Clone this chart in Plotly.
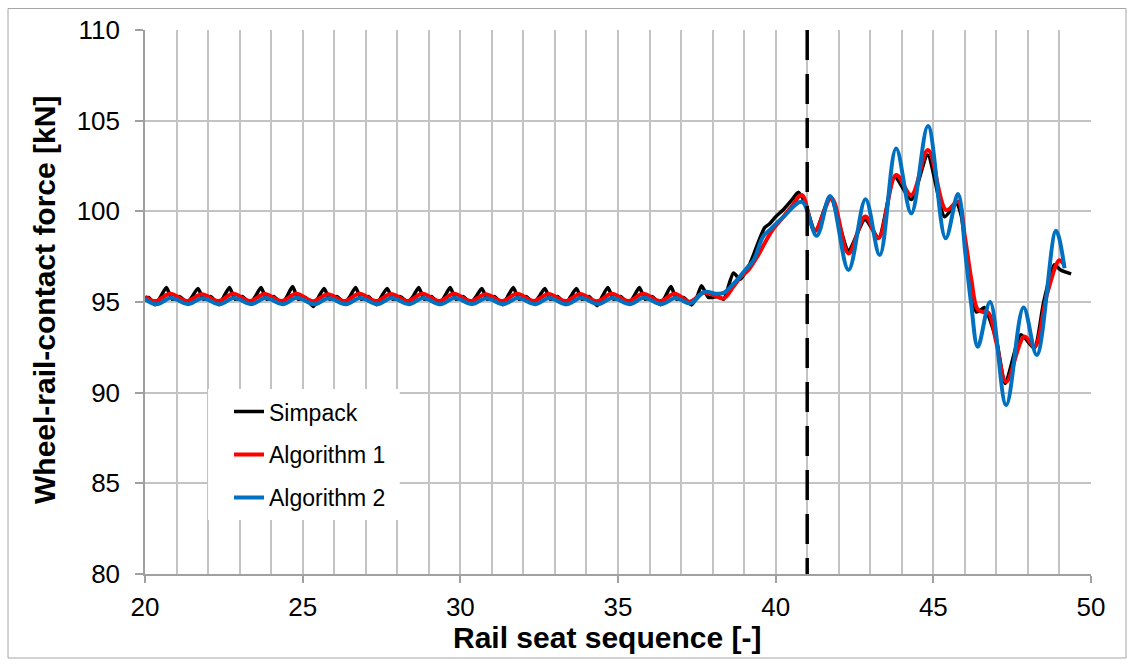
import plotly.graph_objects as go

# Wheel-rail contact force per rail seat: reference simulation and two estimators
SIMPACK = [
    (20.00, 95.20), (20.12, 95.25), (20.32, 94.85), (20.50, 95.30), (20.68, 95.80), (20.86, 95.15),
    (21.08, 95.30), (21.34, 95.00), (21.50, 95.30), (21.68, 95.75), (21.86, 95.15),
    (22.08, 95.30), (22.34, 94.85), (22.50, 95.30), (22.68, 95.80), (22.86, 95.15),
    (23.08, 95.30), (23.34, 94.95), (23.50, 95.30), (23.68, 95.80), (23.86, 95.15),
    (24.08, 95.30), (24.34, 94.90), (24.50, 95.30), (24.68, 95.85), (24.86, 95.15),
    (25.08, 95.25), (25.34, 94.75), (25.50, 95.25), (25.68, 95.75), (25.86, 95.15),
    (26.08, 95.30), (26.34, 94.95), (26.50, 95.30), (26.68, 95.80), (26.86, 95.15),
    (27.08, 95.30), (27.34, 94.85), (27.50, 95.30), (27.68, 95.75), (27.86, 95.15),
    (28.08, 95.30), (28.34, 95.00), (28.50, 95.30), (28.68, 95.80), (28.86, 95.15),
    (29.08, 95.30), (29.34, 94.90), (29.50, 95.30), (29.68, 95.80), (29.86, 95.15),
    (30.08, 95.30), (30.34, 94.95), (30.50, 95.30), (30.68, 95.75), (30.86, 95.15),
    (31.08, 95.30), (31.34, 94.85), (31.50, 95.30), (31.68, 95.80), (31.86, 95.15),
    (32.08, 95.30), (32.34, 94.95), (32.50, 95.30), (32.68, 95.75), (32.86, 95.15),
    (33.08, 95.30), (33.34, 94.90), (33.50, 95.30), (33.68, 95.75), (33.86, 95.15),
    (34.08, 95.30), (34.34, 94.80), (34.50, 95.30), (34.68, 95.80), (34.86, 95.15),
    (35.08, 95.30), (35.34, 94.90), (35.50, 95.30), (35.68, 95.80), (35.86, 95.15),
    (36.08, 95.30), (36.34, 94.85), (36.50, 95.30), (36.68, 95.85), (36.86, 95.15),
    (37.08, 95.25), (37.33, 94.84), (37.50, 95.25), (37.65, 95.90), (37.87, 95.25),
    (38.19, 95.30), (38.35, 95.15), (38.66, 96.60), (38.87, 96.25), (39.18, 97.10),
    (39.45, 98.30), (39.65, 99.10), (39.80, 99.30), (40.00, 99.70), (40.25, 100.10),
    (40.50, 100.60), (40.72, 101.05), (40.92, 100.50), (41.26, 98.90), (41.73, 100.80),
    (42.31, 97.85), (42.83, 99.55), (43.27, 98.55), (43.77, 101.90), (44.30, 100.65),
    (44.82, 103.10), (45.36, 99.70), (45.73, 100.45), (45.88, 99.80), (46.05, 97.70),
    (46.22, 95.40), (46.36, 94.45), (46.50, 94.55), (46.62, 94.70), (47.00, 92.90),
    (47.28, 90.50), (47.78, 93.20), (48.20, 92.45), (48.50, 95.00), (48.83, 97.05),
    (49.05, 96.75), (49.37, 96.55),
]

ALGORITHM_1 = [
    (20.00, 95.30),
    (20.33, 95.05), (20.80, 95.45), (21.33, 95.05), (21.80, 95.43), (22.33, 95.05), (22.80, 95.45),
    (23.33, 95.06), (23.80, 95.44), (24.33, 95.05), (24.80, 95.46), (25.33, 95.04), (25.80, 95.43),
    (26.33, 95.05), (26.80, 95.45), (27.33, 95.05), (27.80, 95.44), (28.33, 95.06), (28.80, 95.45),
    (29.33, 95.05), (29.80, 95.45), (30.33, 95.05), (30.80, 95.43), (31.33, 95.05), (31.80, 95.45),
    (32.33, 95.06), (32.80, 95.44), (33.33, 95.05), (33.80, 95.44), (34.33, 95.04), (34.80, 95.45),
    (35.33, 95.05), (35.80, 95.45), (36.33, 95.05), (36.80, 95.46),
    (37.28, 95.02), (37.70, 95.50), (38.00, 95.40), (38.35, 95.20), (38.66, 95.85),
    (38.90, 96.40), (39.15, 96.80), (39.45, 97.60), (39.87, 98.90), (40.20, 99.60),
    (40.50, 100.25), (40.83, 100.90), (41.24, 98.95), (41.77, 100.72), (42.31, 97.68),
    (42.84, 99.71), (43.26, 98.51), (43.82, 102.00), (44.30, 100.90), (44.83, 103.38),
    (45.41, 100.07), (45.78, 100.53), (46.00, 98.60), (46.20, 96.30), (46.40, 94.60),
    (46.58, 94.45), (46.75, 94.40), (47.00, 92.75), (47.31, 90.60), (47.89, 93.09),
    (48.21, 92.53), (48.60, 95.40), (49.00, 97.30), (49.16, 97.00),
]

ALGORITHM_2 = [
    (20.00, 95.15),
    (20.37, 94.88), (20.82, 95.22), (21.37, 94.88), (21.82, 95.21), (22.37, 94.87), (22.82, 95.22),
    (23.37, 94.88), (23.82, 95.22), (24.37, 94.88), (24.82, 95.23), (25.37, 94.87), (25.82, 95.21),
    (26.37, 94.88), (26.82, 95.22), (27.37, 94.88), (27.82, 95.22), (28.37, 94.88), (28.82, 95.22),
    (29.37, 94.87), (29.82, 95.22), (30.37, 94.88), (30.82, 95.21), (31.37, 94.88), (31.82, 95.22),
    (32.37, 94.88), (32.82, 95.22), (33.37, 94.87), (33.82, 95.22), (34.37, 94.88), (34.82, 95.22),
    (35.37, 94.88), (35.82, 95.23), (36.37, 94.88), (36.82, 95.22),
    (37.30, 94.93), (37.73, 95.55), (38.15, 95.45), (38.35, 95.50), (38.66, 96.00),
    (39.08, 96.86), (39.30, 97.30), (39.60, 98.60), (39.83, 99.00), (40.25, 99.70),
    (40.83, 100.53), (41.30, 98.65), (41.73, 100.85), (42.31, 96.77), (42.85, 100.66),
    (43.30, 97.59), (43.82, 103.47), (44.30, 99.89), (44.83, 104.71), (45.39, 98.51),
    (45.78, 100.96), (46.02, 97.60), (46.20, 94.90), (46.41, 92.53), (46.80, 95.00),
    (47.31, 89.32), (47.86, 94.70), (48.28, 92.08), (48.89, 98.93), (49.16, 96.86),
]

SERIES_NAMES = ["Simpack", "Algorithm 1", "Algorithm 2"]
SERIES_COLORS = ["#000000", "#FF0000", "#0070C0"]
SERIES_WIDTHS = [3.5, 4, 4]
SERIES_SMOOTHING = [0.6, 1.0, 1.0]

X_RANGE = [20, 50]
Y_RANGE = [80, 110]
SECTION_CHANGE_X = 41          # position of the dashed marker
LEGEND_BOX = dict(x0=22.0, x1=28.08, y0=82.98, y1=90.2)

FONT = "Arial, Liberation Sans, sans-serif"
GRID = "#C3C3C3"
AXIS = "#A0A0A0"

fig = go.Figure()

for i, (name, pts) in enumerate(zip(SERIES_NAMES, [SIMPACK, ALGORITHM_1, ALGORITHM_2])):
    xs, ys = zip(*pts)
    fig.add_trace(go.Scatter(
        x=list(xs), y=list(ys), name=name, mode="lines",
        line=dict(color=SERIES_COLORS[i], width=SERIES_WIDTHS[i], shape="spline",
                  smoothing=SERIES_SMOOTHING[i]),
        legendgroup=f"g{i}",
    ))

# white panel behind the legend
fig.add_shape(type="rect", xref="x", yref="y", layer="above",
              fillcolor="white", line=dict(width=0), **LEGEND_BOX)

# dashed vertical marker
fig.add_shape(type="line", xref="x", yref="y", layer="above",
              x0=SECTION_CHANGE_X, x1=SECTION_CHANGE_X, y0=Y_RANGE[1], y1=Y_RANGE[0],
              line=dict(color="black", width=3.5, dash="30px,14px"))

# chart-area frame
fig.add_shape(type="rect", xref="paper", yref="paper", layer="below",
              x0=-0.1448, x1=1.0370, y0=-0.1544, y1=1.0395,
              line=dict(color="#A6A6A6", width=1), fillcolor="rgba(0,0,0,0)")

fig.add_annotation(text="<b>Rail seat sequence [-]</b>", xref="paper", yref="paper",
                   x=0.4884, y=-0.1176, xanchor="center", yanchor="middle",
                   showarrow=False, font=dict(family=FONT, size=30, color="black"))
fig.add_annotation(text="<b>Wheel-rail-contact force [kN]</b>", xref="paper", yref="paper",
                   x=-0.1057, y=0.5037, xanchor="center", yanchor="middle", textangle=-90,
                   showarrow=False, font=dict(family=FONT, size=30, color="black"))

axis_common = dict(
    showgrid=True, gridcolor=GRID, gridwidth=1.5,
    showline=True, linecolor=AXIS, linewidth=1.5,
    ticks="outside", tickcolor=AXIS, tickwidth=1.5,
    tickfont=dict(family=FONT, size=26, color="black"),
    zeroline=False, fixedrange=True,
)

fig.update_xaxes(range=X_RANGE, tick0=20, dtick=5, ticklen=7, ticklabelstandoff=2,
                 minor=dict(dtick=1, showgrid=True, gridcolor=GRID, gridwidth=1.5, ticks=""),
                 **axis_common)
fig.update_yaxes(range=Y_RANGE, tick0=80, dtick=5, ticklen=8, ticklabelstandoff=10,
                 **axis_common)

fig.update_layout(
    width=1134, height=666,
    margin=dict(l=145, r=43, t=30, b=92, autoexpand=False),
    paper_bgcolor="white", plot_bgcolor="white",
    font=dict(family=FONT, color="black"),
    showlegend=True,
    legend=dict(x=0.0888, y=0.338, xanchor="left", yanchor="top",
                bgcolor="rgba(0,0,0,0)", borderwidth=0,
                font=dict(family=FONT, size=23, color="black"),
                tracegroupgap=10, itemwidth=30),
)

fig.write_html("out.html")
